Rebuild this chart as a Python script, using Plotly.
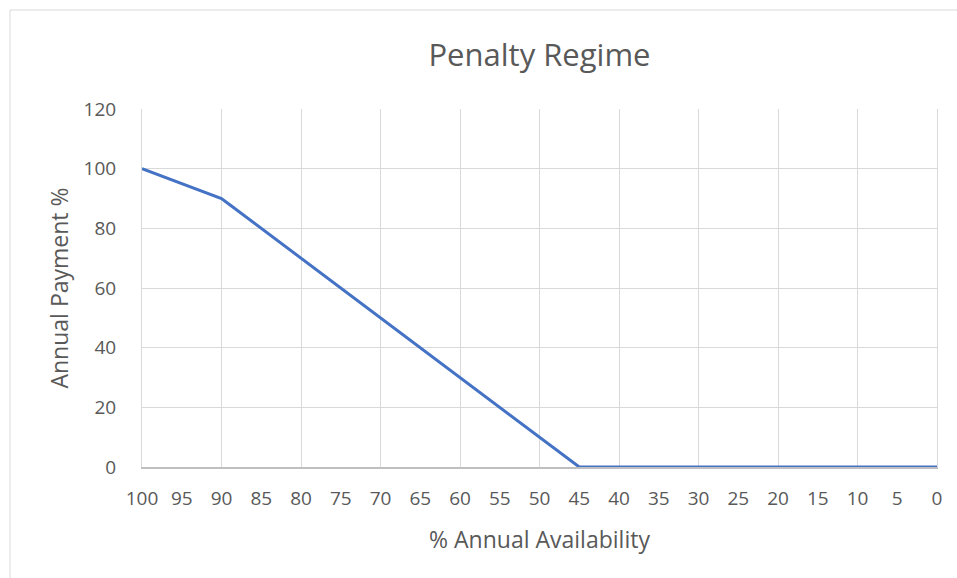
import plotly.graph_objects as go

# % annual availability (categories, 100 down to 0)
availability = list(range(100, -1, -1))
# annual payment %
payment = [
    100, 99, 98, 97, 96, 95, 94, 93, 92, 91,   # 100..91
    90, 88, 86, 84, 82, 80, 78, 76, 74, 72,    # 90..81
    70, 68, 66, 64, 62, 60, 58, 56, 54, 52,    # 80..71
    50, 48, 46, 44, 42, 40, 38, 36, 34, 32,    # 70..61
    30, 28, 26, 24, 22, 20, 18, 16, 14, 12,    # 60..51
    10, 8, 6, 4, 2, 0, 0, 0, 0, 0,             # 50..41
    0, 0, 0, 0, 0, 0, 0, 0, 0, 0,              # 40..31
    0, 0, 0, 0, 0, 0, 0, 0, 0, 0,              # 30..21
    0, 0, 0, 0, 0, 0, 0, 0, 0, 0,              # 20..11
    0, 0, 0, 0, 0, 0, 0, 0, 0, 0,              # 10..1
    0,                                          # 0
]
y_ticks = [0, 20, 40, 60, 80, 100, 120]

GRAY = "#595959"
GRID = "#D9D9D9"
FONT = "Open Sans"

fig = go.Figure()
fig.add_trace(go.Scatter(
    x=availability, y=payment, mode="lines",
    line=dict(color="#4472C4", width=3),
    xaxis="x", yaxis="y", showlegend=False, hoverinfo="x+y",
))
# invisible helper trace to activate the gridline axis
fig.add_trace(go.Scatter(
    x=[availability[0]], y=[payment[0]], mode="markers",
    marker=dict(opacity=0), xaxis="x2", yaxis="y",
    showlegend=False, hoverinfo="skip",
))

fig.update_layout(
    width=957, height=578,
    margin=dict(l=142, r=20, t=109, b=111),
    paper_bgcolor="white", plot_bgcolor="white",
    font=dict(family=FONT, color=GRAY),
    title=dict(text="Penalty Regime", x=0.5, xref="paper", xanchor="center",
               y=1 - 55 / 578, yanchor="middle",
               font=dict(size=31, color=GRAY, family=FONT)),
    xaxis=dict(
        range=[100, 0], tickmode="linear", tick0=0, dtick=5,
        showgrid=False, zeroline=False,
        showline=True, linecolor="#BFBFBF", linewidth=1.5,
        ticks="outside", ticklen=13, tickcolor="rgba(0,0,0,0)",
        tickfont=dict(size=19, color=GRAY, family=FONT),
        title=dict(text="% Annual Availability", standoff=22,
                   font=dict(size=23, color=GRAY, family=FONT)),
    ),
    xaxis2=dict(
        range=[100, 0], overlaying="x", tickmode="linear", tick0=0, dtick=10,
        showgrid=True, gridcolor=GRID, gridwidth=1,
        showticklabels=False, zeroline=False, showline=False, ticks="",
    ),
    yaxis=dict(
        range=[0, 120], tickvals=y_ticks,
        showgrid=True, gridcolor=GRID, gridwidth=1, zeroline=False,
        showline=True, linecolor=GRID, linewidth=1, mirror=True,
        ticks="outside", ticklen=21, tickcolor="rgba(0,0,0,0)",
        tickfont=dict(size=19, color=GRAY, family=FONT),
        title=dict(text="Annual Payment %", standoff=8,
                   font=dict(size=23, color=GRAY, family=FONT)),
    ),
    shapes=[dict(
        type="rect", xref="paper", yref="paper",
        x0=(10 - 142) / 795, x1=(960 - 142) / 795,
        y0=(467 - 600) / 358, y1=(467 - 10) / 358,
        line=dict(color=GRID, width=1), fillcolor="rgba(0,0,0,0)",
        layer="below",
    )],
)

fig.write_html("out.html",
               config={"displayModeBar": False},
               post_script="document.body.style.margin='0';document.body.style.padding='0';")
